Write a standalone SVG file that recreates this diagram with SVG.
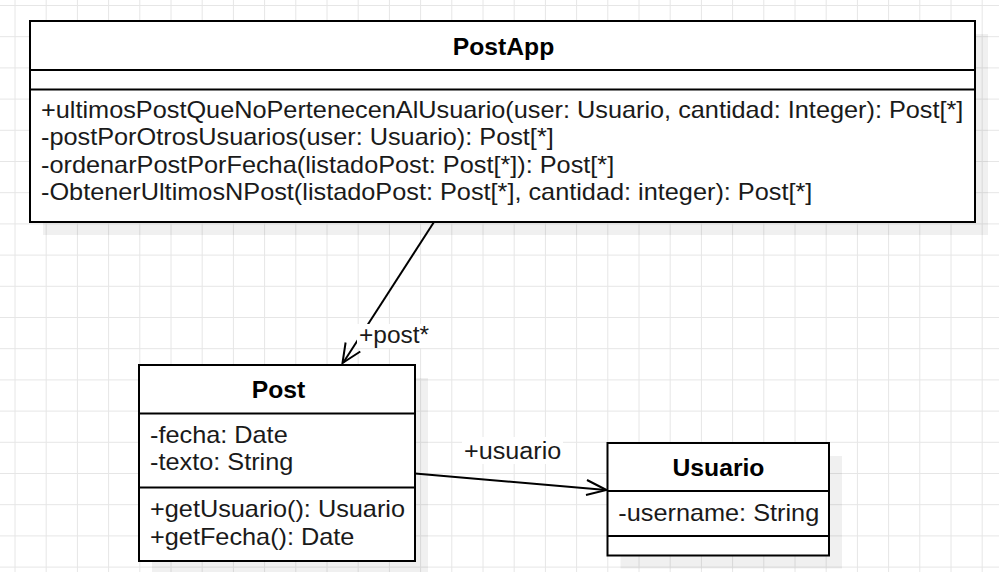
<svg xmlns="http://www.w3.org/2000/svg" width="999" height="572" viewBox="0 0 999 572">
<style>
.grid{stroke:#e6e6e6;stroke-width:1;fill:none}
.shadow{fill:#000;fill-opacity:0.06;stroke:none}
.box{fill:#fff;stroke:#000;stroke-width:2}
.div{stroke:#000;stroke-width:2;fill:none}
.title{font-family:"Liberation Sans",Arial,sans-serif;font-weight:bold;font-size:24.7px;fill:#000;text-anchor:middle}
.body{font-family:"Liberation Sans",Arial,sans-serif;font-size:23px;fill:#1a1a1a}
.edge{stroke:#000;stroke-width:2;fill:none}
.lblbg{fill:#fff}
</style>
<rect width="999" height="572" fill="#fff"/>
<path class="grid" d="M15,0V572M46.2,0V572M77.4,0V572M108.6,0V572M139.8,0V572M171,0V572M202.2,0V572M233.4,0V572M264.6,0V572M295.8,0V572M327,0V572M358.2,0V572M389.4,0V572M420.6,0V572M451.8,0V572M483,0V572M514.2,0V572M545.4,0V572M576.6,0V572M607.8,0V572M639,0V572M670.2,0V572M701.4,0V572M732.6,0V572M763.8,0V572M795,0V572M826.2,0V572M857.4,0V572M888.6,0V572M919.8,0V572M951,0V572M982.2,0V572M0,5.5H999M0,36.7H999M0,67.9H999M0,99.1H999M0,130.3H999M0,161.5H999M0,192.7H999M0,223.9H999M0,255.1H999M0,286.3H999M0,317.5H999M0,348.7H999M0,379.9H999M0,411.1H999M0,442.3H999M0,473.5H999M0,504.7H999M0,535.9H999M0,567.1H999"/>

<g id="edges">
  <path class="edge" d="M434,222L343,363"/>
  <path class="edge" d="M345.6,342.5L342.5,363L360.3,351.5"/>
  <path class="edge" d="M415,473.5L606,490"/>
  <path class="edge" d="M587,480L606.5,490L586,495"/>
  <rect class="lblbg" x="357" y="324" width="74" height="24"/>
  <text class="body" transform="translate(359,342.7) scale(1.065,1)">+post*</text>
  <rect class="lblbg" x="462" y="437" width="101" height="27"/>
  <text class="body" transform="translate(464,459.3) scale(1.095,1)">+usuario</text>
</g>

<g id="PostApp">
  <rect class="shadow" x="43" y="34" width="945" height="201"/>
  <rect class="box" x="30" y="21" width="945" height="201"/>
  <path class="div" d="M30,70H975M30,89.5H975"/>
  <text class="title" x="503.5" y="55">PostApp</text>
  <text class="body" transform="translate(41,117.7) scale(1.1,1)">+ultimosPostQueNoPertenecenAlUsuario(user: Usuario, cantidad: Integer): Post[*]</text>
  <text class="body" transform="translate(41,145.2) scale(1.1,1)">-postPorOtrosUsuarios(user: Usuario): Post[*]</text>
  <text class="body" transform="translate(41,172.7) scale(1.1,1)">-ordenarPostPorFecha(listadoPost: Post[*]): Post[*]</text>
  <text class="body" transform="translate(41,200.2) scale(1.1,1)">-ObtenerUltimosNPost(listadoPost: Post[*], cantidad: integer): Post[*]</text>
</g>

<g id="Post">
  <rect class="shadow" x="152" y="378" width="276" height="196"/>
  <rect class="box" x="139" y="365" width="276" height="196"/>
  <path class="div" d="M139,413.5H415M139,487.5H415"/>
  <text class="title" x="278.5" y="397.5">Post</text>
  <text class="body" transform="translate(150,442.7) scale(1.1,1)">-fecha: Date</text>
  <text class="body" transform="translate(150,469.5) scale(1.1,1)">-texto: String</text>
  <text class="body" transform="translate(150,516.7) scale(1.1,1)">+getUsuario(): Usuario</text>
  <text class="body" transform="translate(150,544.5) scale(1.1,1)">+getFecha(): Date</text>
</g>

<g id="Usuario">
  <rect class="shadow" x="620.5" y="456" width="221.5" height="112.5"/>
  <rect class="box" x="607.5" y="443" width="221.5" height="112.5"/>
  <path class="div" d="M607.5,491H829M607.5,536H829"/>
  <text class="title" x="718.5" y="476">Usuario</text>
  <text class="body" transform="translate(618.3,520.7) scale(1.1,1)">-username: String</text>
</g>
</svg>
